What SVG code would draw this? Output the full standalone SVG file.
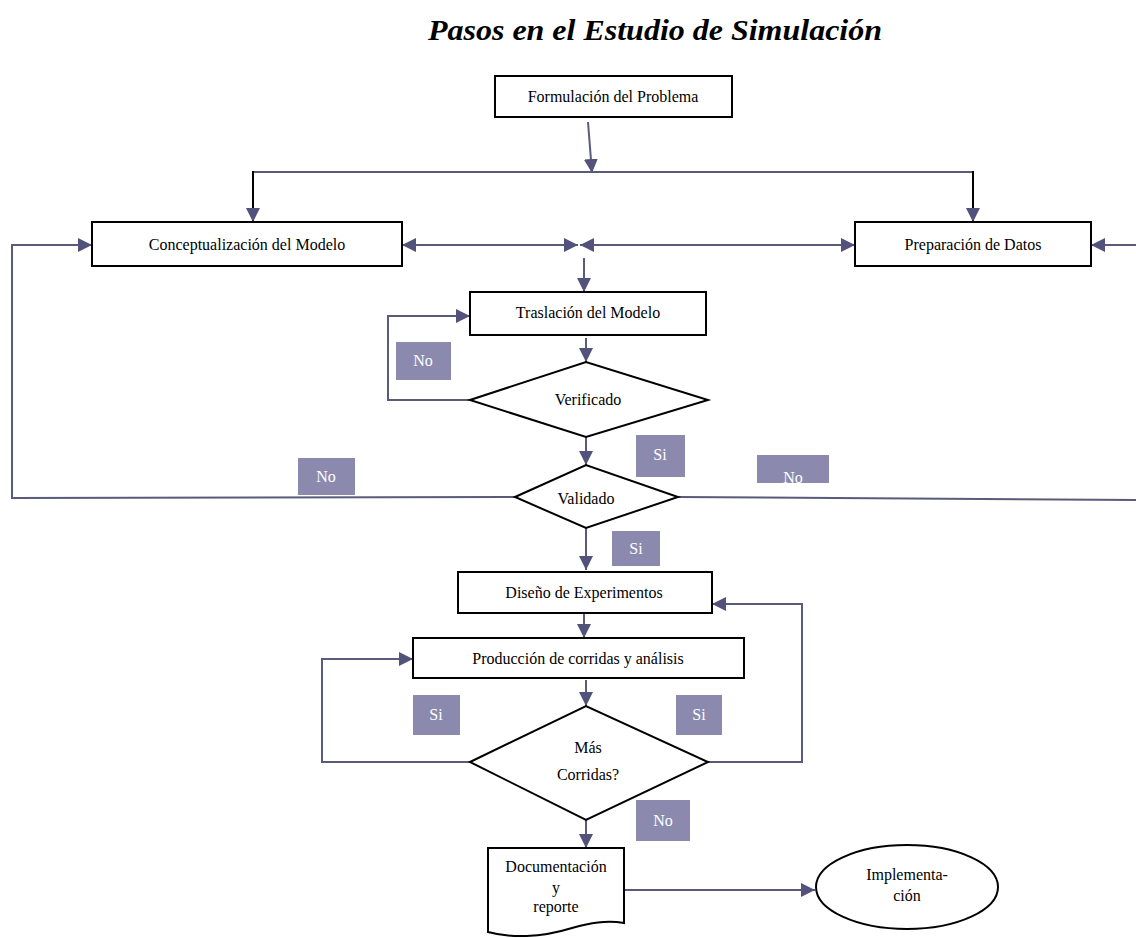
<svg xmlns="http://www.w3.org/2000/svg" width="1136" height="938" viewBox="0 0 1136 938">
<style>
.box{fill:#fff;stroke:#000;stroke-width:2}
.t{font-family:"Liberation Serif","Times New Roman",serif;font-size:16px;fill:#000;text-anchor:middle}
.lbl{fill:#8b8aae}
.lt{font-family:"Liberation Serif","Times New Roman",serif;font-size:16px;fill:#fff;text-anchor:middle}
.c{fill:none;stroke:#5a5a7a;stroke-width:2}
.cb{fill:none;stroke:#000;stroke-width:2}
</style>
<defs>
<marker id="ah" viewBox="0 0 14 14" refX="14" refY="7" markerWidth="14" markerHeight="14" markerUnits="userSpaceOnUse" orient="auto-start-reverse">
<path d="M0,0 L14,7 L0,14 Z" fill="#52527a"/>
</marker>
</defs>
<rect width="1136" height="938" fill="#fff"/>
<text x="655" y="40" font-family="Liberation Serif,serif" font-size="29" font-weight="bold" font-style="italic" text-anchor="middle" textLength="454" lengthAdjust="spacingAndGlyphs">Pasos en el Estudio de Simulación</text>

<g id="connectors">
<line class="c" x1="588" y1="122" x2="592" y2="173" marker-end="url(#ah)"/>
<line class="c" x1="253" y1="172" x2="973" y2="172"/>
<line class="cb" x1="253" y1="171" x2="253" y2="222" marker-end="url(#ah)"/>
<line class="cb" x1="973" y1="171" x2="973" y2="222" marker-end="url(#ah)"/>
<line class="c" x1="402" y1="245" x2="578" y2="245" marker-start="url(#ah)" marker-end="url(#ah)"/>
<line class="c" x1="580" y1="245" x2="855" y2="245" marker-start="url(#ah)" marker-end="url(#ah)"/>
<line class="c" x1="584" y1="258" x2="584" y2="292" marker-end="url(#ah)"/>
<polyline class="c" points="470,400 388,400 388,316 470,316" marker-end="url(#ah)"/>
<line class="c" x1="586" y1="338" x2="586" y2="362" marker-end="url(#ah)"/>
<line class="c" x1="586" y1="437" x2="586" y2="465" marker-end="url(#ah)"/>
<polyline class="c" points="515,497 12,498 12,245 92,245" marker-end="url(#ah)"/>
<line class="c" x1="678" y1="497" x2="1136" y2="500"/>
<line class="c" x1="1136" y1="245" x2="1091" y2="245" marker-end="url(#ah)"/>
<line class="c" x1="586" y1="528" x2="586" y2="570" marker-end="url(#ah)"/>
<line class="c" x1="584" y1="614" x2="584" y2="638" marker-end="url(#ah)"/>
<polyline class="c" points="708,762 802,762 802,604 712,604" marker-end="url(#ah)"/>
<polyline class="c" points="470,762 322,762 322,659 413,659" marker-end="url(#ah)"/>
<line class="c" x1="586" y1="680" x2="586" y2="706" marker-end="url(#ah)"/>
<line class="c" x1="586" y1="820" x2="586" y2="848" marker-end="url(#ah)"/>
<line class="c" x1="624" y1="890" x2="815" y2="890" marker-end="url(#ah)"/>
</g>

<g id="n-formulacion"><rect class="box" x="495" y="76" width="237" height="41"/><text class="t" x="613" y="102">Formulación del Problema</text></g>
<g id="n-conceptualizacion"><rect class="box" x="92" y="222" width="310" height="44"/><text class="t" x="247" y="250">Conceptualización del Modelo</text></g>
<g id="n-preparacion"><rect class="box" x="855" y="222" width="236" height="44"/><text class="t" x="973" y="250">Preparación de Datos</text></g>
<g id="n-traslacion"><rect class="box" x="470" y="292" width="236" height="43"/><text class="t" x="588" y="318">Traslación del Modelo</text></g>
<g id="n-verificado"><polygon class="box" points="470,400 586,362 708,400 586,437"/><text class="t" x="588" y="405">Verificado</text></g>
<g id="n-validado"><polygon class="box" points="515,497 586,465 678,497 586,528"/><text class="t" x="586" y="504">Validado</text></g>
<g id="n-diseno"><rect class="box" x="458" y="572" width="254" height="41"/><text class="t" x="584" y="598">Diseño de Experimentos</text></g>
<g id="n-produccion"><rect class="box" x="413" y="638" width="331" height="40"/><text class="t" x="578" y="664">Producción de corridas y análisis</text></g>
<g id="n-mas"><polygon class="box" points="470,762 586,706 708,762 586,820"/><text class="t" x="588" y="753">Más</text><text class="t" x="588" y="780">Corridas?</text></g>
<g id="n-documentacion"><path class="box" d="M488,848 H624 V923 C606,920 590,923 572,928 C540,938 510,938 488,932 Z"/><text class="t" x="556" y="872">Documentación</text><text class="t" x="556" y="893">y</text><text class="t" x="556" y="912">reporte</text></g>
<g id="n-implementacion"><ellipse class="box" cx="907" cy="887" rx="91" ry="42"/><text class="t" x="907" y="880">Implementa-</text><text class="t" x="907" y="901">ción</text></g>

<g id="labels">
<g id="l-no1"><rect class="lbl" x="396" y="342" width="55" height="38"/><text class="lt" x="423" y="366">No</text></g>
<g id="l-si1"><rect class="lbl" x="636" y="435" width="49" height="42"/><text class="lt" x="660" y="460">Si</text></g>
<g id="l-no2"><rect class="lbl" x="298" y="458" width="57" height="37"/><text class="lt" x="326" y="482">No</text></g>
<g id="l-no3"><rect class="lbl" x="757" y="455" width="72" height="28"/><text class="lt" x="793" y="483">No</text></g>
<g id="l-si2"><rect class="lbl" x="612" y="531" width="48" height="35"/><text class="lt" x="636" y="554">Si</text></g>
<g id="l-si3"><rect class="lbl" x="413" y="695" width="47" height="40"/><text class="lt" x="436" y="720">Si</text></g>
<g id="l-si4"><rect class="lbl" x="676" y="695" width="46" height="40"/><text class="lt" x="699" y="720">Si</text></g>
<g id="l-no4"><rect class="lbl" x="636" y="800" width="54" height="41"/><text class="lt" x="663" y="826">No</text></g>
</g>
</svg>
